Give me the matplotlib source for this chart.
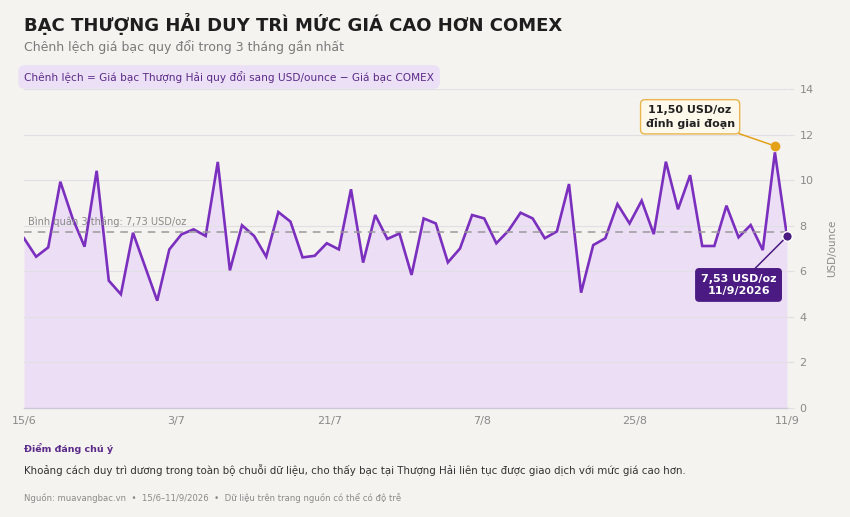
import numpy as np
import matplotlib
matplotlib.use("Agg")
import matplotlib.pyplot as plt

# chênh lệch giá bạc (USD/oz)
spread = [7.45, 6.64, 7.05, 9.93, 8.34, 7.08, 10.41, 5.59, 4.99, 7.69,
          6.20, 4.71, 6.96, 7.62, 7.84, 7.55, 10.80, 6.04, 8.02, 7.55,
          6.64, 8.60, 8.18, 6.61, 6.68, 7.23, 6.96, 9.60, 6.38, 8.47,
          7.42, 7.66, 5.84, 8.32, 8.10, 6.39, 7.00, 8.47, 8.32, 7.23,
          7.78, 8.57, 8.32, 7.45, 7.75, 9.83, 5.06, 7.15, 7.45, 8.95,
          8.10, 9.10, 7.63, 10.81, 8.72, 10.22, 7.11, 7.11, 8.88, 7.49,
          8.03, 6.93, 11.22, 7.53]
tick_labels = ["15/6", "3/7", "21/7", "7/8", "25/8", "11/9"]
mean_value = 7.73
peak_value = 11.50
peak_index = 62
last_value = 7.53
y_ticks = [0, 2, 4, 6, 8, 10, 12, 14]

bg = "#f5f3ef"
purple = "#7b2fbe"
dark_purple = "#4b1a82"
grid_c = "#e2dfe4"

fig = plt.figure(figsize=(8.5, 5.17), dpi=100, facecolor=bg)
ax = fig.add_axes([24 / 850, 1 - 408 / 517, (787 - 24) / 850, (408 - 89) / 517])
ax.set_facecolor(bg)

x = np.arange(len(spread))
ax.fill_between(x, spread, 0, color="#ecdff5", lw=0, zorder=1)
ax.plot(x, spread, color=purple, lw=1.9, zorder=3, solid_joinstyle="miter")

ax.axhline(mean_value, color="#9a9a9a", lw=1.1, ls=(0, (5, 4)), zorder=4)
ax.text(0.35, mean_value + 0.22, "Bình quân 3 tháng: 7,73 USD/oz", fontsize=7.1,
        color="#8a8a8a", va="bottom", ha="left", zorder=5)

ax.set_xlim(0, len(spread) - 1)
ax.set_ylim(0, 14)
ax.set_yticks(y_ticks)
ax.set_xticks(np.linspace(0, len(spread) - 1, len(tick_labels)))
ax.set_xticklabels(tick_labels)
ax.yaxis.tick_right()
ax.yaxis.set_label_position("right")
ax.tick_params(axis="y", length=5, color=grid_c, labelcolor="#8a8a8a", labelsize=8, pad=4)
ax.tick_params(axis="x", length=0, labelcolor="#8a8a8a", labelsize=8, pad=6)
ax.grid(axis="y", color=grid_c, lw=0.8, zorder=0)
ax.set_ylabel("USD/ounce", fontsize=7.5, color="#8a8a8a", labelpad=10)
for s in ["top", "left", "right"]:
    ax.spines[s].set_visible(False)
ax.spines["bottom"].set_color("#cfc8d6")
ax.spines["bottom"].set_linewidth(1.0)

# điểm đỉnh
ax.scatter([peak_index], [peak_value], s=36, color="#e3a21a", zorder=6)
ax.annotate("11,50 USD/oz\nđỉnh giai đoạn", xy=(peak_index, peak_value),
            xytext=(peak_index - 7, 12.78), fontsize=8, fontweight="bold", color="#222222",
            ha="center", va="center", linespacing=1.35, zorder=7,
            bbox=dict(boxstyle="round,pad=0.45,rounding_size=0.4", fc="#fff9ec", ec="#eab54c", lw=1),
            arrowprops=dict(arrowstyle="-", color="#e3a21a", lw=1.1, shrinkA=0, shrinkB=3))

# điểm cuối
last_index = len(spread) - 1
ax.scatter([last_index], [last_value], s=48, color=dark_purple, edgecolor="white",
           linewidth=1, zorder=6, clip_on=False)
ax.annotate("7,53 USD/oz\n11/9/2026", xy=(last_index, last_value),
            xytext=(last_index - 4, 5.4), fontsize=8, fontweight="bold", color="white",
            ha="center", va="center", linespacing=1.3, zorder=7,
            bbox=dict(boxstyle="round,pad=0.45,rounding_size=0.3", fc=dark_purple, ec=dark_purple),
            arrowprops=dict(arrowstyle="-", color=dark_purple, lw=1.1, shrinkA=0, shrinkB=4))

# tiêu đề
fig.text(24 / 850, 1 - 24 / 517, "BẠC THƯỢNG HẢI DUY TRÌ MỨC GIÁ CAO HƠN COMEX",
         fontsize=13.0, fontweight="bold", color="#1e1e1e", va="center", ha="left")
fig.text(24 / 850, 1 - 47 / 517, "Chênh lệch giá bạc quy đổi trong 3 tháng gần nhất",
         fontsize=9.0, color="#7a7a7a", va="center", ha="left")
fig.text(24 / 850, 1 - 77 / 517, "Chênh lệch = Giá bạc Thượng Hải quy đổi sang USD/ounce − Giá bạc COMEX",
         fontsize=7.6, color="#5b2a8a", va="center", ha="left",
         bbox=dict(boxstyle="round,pad=0.55,rounding_size=0.6", fc="#ebe0f5", ec="none"))

# chú thích cuối
fig.text(24 / 850, 1 - 449 / 517, "Điểm đáng chú ý", fontsize=6.8, fontweight="bold",
         color="#5b2a8a", va="center", ha="left")
fig.text(24 / 850, 1 - 470 / 517,
         "Khoảng cách duy trì dương trong toàn bộ chuỗi dữ liệu, cho thấy bạc tại Thượng Hải liên tục được giao dịch với mức giá cao hơn.",
         fontsize=7.4, color="#333333", va="center", ha="left")
fig.text(24 / 850, 1 - 498 / 517,
         "Nguồn: muavangbac.vn  •  15/6–11/9/2026  •  Dữ liệu trên trang nguồn có thể có độ trễ",
         fontsize=6.1, color="#8a8a8a", va="center", ha="left")

fig.savefig("out.png", dpi=100, facecolor=bg)
